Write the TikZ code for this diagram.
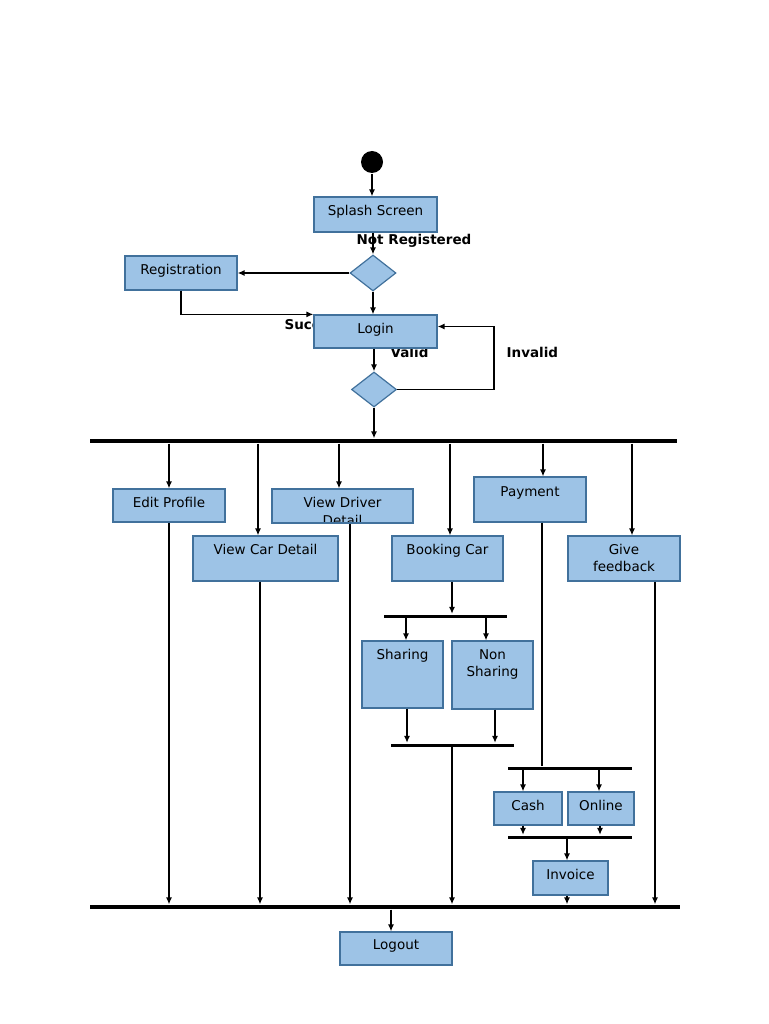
\documentclass[tikz,border=0pt]{standalone}
\usepackage{fontspec}
\setmainfont{DejaVu Sans}
\usetikzlibrary{shapes.geometric,arrows.meta}
\definecolor{boxfill}{RGB}{157,195,230}
\definecolor{boxline}{RGB}{65,113,156}

\begin{document}
\begin{tikzpicture}[x=1pt,y=-1pt,line width=1.3pt,>={Latex[length=7pt,width=6pt]},
    boxfont/.style={font=\fontsize{13.5}{17.5}\selectfont},
    actbox/.style={rectangle, draw=boxline, fill=boxfill, line width=1.2pt, inner sep=0pt, text height=18pt, align=center, boxfont},
    decision/.style={diamond, draw=boxline, fill=boxfill, line width=1.2pt, inner sep=0pt},
    syncbar/.style={rectangle, fill=black, inner sep=0pt, minimum height=#1},
    guard/.style={font=\fontsize{13.5}{16}\bfseries\selectfont, inner sep=0pt, anchor=base west},]
    \useasboundingbox (0,0) rectangle (768,1024);
    % nodes
    \node[circle, fill=black, minimum size=22pt, inner sep=0pt] (start) at (372,162) {};
    \node[actbox, minimum width=123pt, text depth=17pt] (splash) at (375.5,214.5) {Splash Screen};
    \node[guard]          (notreg)  at (356,244)       {Not Registered};
    \node[decision, minimum width=46pt, minimum height=36pt] (dec1) at (373,273) {};
    \node[actbox, minimum width=112pt, text depth=16pt] (reg) at (181,273) {Registration};
    \node[guard]          (succ)    at (284,329)       {Success};
    \node[guard]          (valid)   at (390,357)       {Valid};
    \node[guard]          (invalid) at (506,357)       {Invalid};
    \node[actbox, minimum width=123pt, text depth=15pt] (login) at (375.5,331.5) {Login};
    \node[decision, minimum width=45pt, minimum height=35pt] (dec2) at (374,389.5) {};
    \node[syncbar=4pt, minimum width=587pt] (fork1) at (383.5,441) {};
    \node[actbox, minimum width=112pt, text depth=15pt] (edit) at (169,505.5) {Edit Profile};
    \node[actbox, minimum width=141pt, text depth=16pt,
          path picture={\node[anchor=north, align=center, inner sep=0pt, draw=none, fill=none,
                              text height=35.5pt, text depth=4pt, boxfont]
                              at (path picture bounding box.north) {View Driver\\Detail};}]
                          (vdriver) at (342.5,506)     {};
    \node[actbox, minimum width=112pt, text height=19pt, text depth=26pt] (pay) at (530,499.5) {Payment};
    \node[actbox, minimum width=145pt, text depth=27pt] (vcar) at (265.5,558.5) {View Car Detail};
    \node[actbox, minimum width=111pt, text depth=27pt] (book) at (447.5,558.5) {Booking Car};
    \node[actbox, minimum width=112pt, text height=35.5pt, text depth=9.5pt] (feed) at (624,558.5) {Give\\feedback};
    \node[syncbar=3pt, minimum width=123pt] (fork2) at (445.5,616) {};
    \node[actbox, minimum width=81pt, text depth=49pt] (sharing) at (402.5,674.5) {Sharing};
    \node[actbox, minimum width=81pt, text height=35.5pt, text depth=32.5pt] (nonsharing) at (492.5,675) {Non\\Sharing};
    \node[syncbar=3pt, minimum width=123pt] (join2) at (452,745) {};
    \node[syncbar=3pt, minimum width=124pt] (fork3) at (570,768) {};
    \node[actbox, minimum width=68pt, text depth=15pt] (cash) at (528,808.5) {Cash};
    \node[actbox, minimum width=66pt, text depth=15pt] (online) at (601,808.5) {Online};
    \node[syncbar=3pt, minimum width=124pt] (join3) at (570,837) {};
    \node[actbox, minimum width=75pt, text depth=16pt] (invoice) at (570.5,878) {Invoice};
    \node[syncbar=4pt, minimum width=590pt] (join1) at (385,907) {};
    \node[actbox, minimum width=112pt, text height=17pt, text depth=16pt] (logout) at (396,948.5) {Logout};
    % lines
    \draw[->] (start) -- (start |- splash.north);
    \draw[->] (splash.south -| dec1) -- (dec1.north);
    \draw[->] (dec1.west) -- (dec1.west -| reg.east);
    \draw[->] (reg.south) |- (login.north west);
    \draw[->] (dec1.south) -- (dec1.south |- login.north);
    \draw[->] (login.south -| dec2) -- (dec2.north);
    \draw[->] (dec2.east) -- ++(97,0) |- ([yshift=5pt]login.east);
    \draw[->] (dec2.south) -- (dec2.south |- fork1.north);
    \draw[->] (edit.north |- fork1.south) -- (edit.north);
    \draw[->] ([xshift=-7.5pt]vcar.north |- fork1.south) -- ([xshift=-7.5pt]vcar.north);
    \draw[->] ([xshift=-3.5pt]vdriver.north |- fork1.south) -- ([xshift=-3.5pt]vdriver.north);
    \draw[->] ([xshift=2.5pt]book.north |- fork1.south) -- ([xshift=2.5pt]book.north);
    \draw[->] ([xshift=13pt]pay.north |- fork1.south) -- ([xshift=13pt]pay.north);
    \draw[->] ([xshift=8pt]feed.north |- fork1.south) -- ([xshift=8pt]feed.north);
    \draw[->] (edit.south) -- (edit.south |- join1.north);
    \draw[->] ([xshift=-5.5pt]vcar.south) -- ([xshift=-5.5pt]vcar.south |- join1.north);
    \draw[->] ([xshift=7.5pt]vdriver.south) -- ([xshift=7.5pt]vdriver.south |- join1.north);
    \draw[->] ([xshift=4.5pt]book.south) -- ([xshift=4.5pt]book.south |- fork2.north);
    \draw ([xshift=12pt]pay.south) -- ([xshift=12pt]pay.south |- fork3.north);
    \draw[->] ([xshift=31pt]feed.south) -- ([xshift=31pt]feed.south |- join1.north);
    \draw[->] ([xshift=3.5pt]sharing.north |- fork2.south) -- ([xshift=3.5pt]sharing.north);
    \draw[->] ([xshift=-6.5pt]nonsharing.north |- fork2.south) -- ([xshift=-6.5pt]nonsharing.north);
    \draw[->] ([xshift=4.5pt]sharing.south) -- ([xshift=4.5pt]sharing.south |- join2.north);
    \draw[->] ([xshift=2.5pt]nonsharing.south) -- ([xshift=2.5pt]nonsharing.south |- join2.north);
    \draw[->] (join2.south) -- (join2.south |- join1.north);
    \draw[->] ([xshift=-5pt]cash.north |- fork3.south) -- ([xshift=-5pt]cash.north);
    \draw[->] ([xshift=-2pt]online.north |- fork3.south) -- ([xshift=-2pt]online.north);
    \draw[->] ([xshift=-5pt]cash.south) -- ([xshift=-5pt]cash.south |- join3.north);
    \draw[->] ([xshift=-1pt]online.south) -- ([xshift=-1pt]online.south |- join3.north);
    \draw[->] ([xshift=-3.5pt]invoice.north |- join3.south) -- ([xshift=-3.5pt]invoice.north);
    \draw[->] ([xshift=-3.5pt]invoice.south) -- ([xshift=-3.5pt]invoice.south |- join1.north);
    \draw[->] ([xshift=-5pt]logout.north |- join1.south) -- ([xshift=-5pt]logout.north);
\end{tikzpicture}
\end{document}
